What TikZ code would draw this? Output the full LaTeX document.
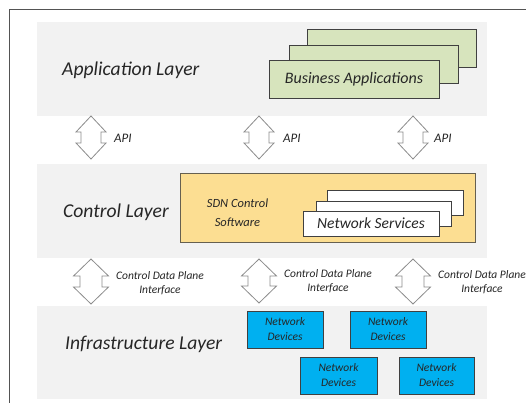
\documentclass[tikz,border=0pt]{standalone}
\usepackage{fontspec}
\setmainfont{Carlito}
\definecolor{bandgray}{HTML}{F2F2F2}
\definecolor{appgreen}{HTML}{D7E4BD}
\definecolor{sdnyellow}{HTML}{FCDE92}
\definecolor{devblue}{HTML}{00B0F0}
\definecolor{txt}{HTML}{262626}
\definecolor{edge}{HTML}{404040}
\begin{document}
\begin{tikzpicture}[x=1pt,y=-1pt,
  band/.style={fill=bandgray, draw=none, minimum width=450, minimum height=94, inner sep=0},
  layerlabel/.style={anchor=base west, inner sep=0, text=txt, font=\fontsize{19.6}{22}\selectfont\itshape},
  appbox/.style={fill=appgreen, draw=edge, line width=0.9pt, minimum width=170, minimum height=38, inner sep=0},
  svcbox/.style={fill=white, draw=edge, line width=0.9pt, minimum width=136, minimum height=25, inner sep=0},
  sdnbox/.style={fill=sdnyellow, draw=edge!80!sdnyellow, line width=0.9pt, minimum width=295, minimum height=69, inner sep=0},
  devbox/.style={fill=devblue, draw=edge, line width=0.9pt, minimum width=76, minimum height=37, inner sep=0, align=center,
     text=txt, font=\fontsize{11.5}{15}\selectfont\itshape},
  arrowline/.style={draw=gray!90, fill=white, line width=0.8pt, line join=miter},
  smalltext/.style={inner sep=0, text=txt, align=center, font=\fontsize{11.5}{14}\selectfont\itshape},
  apitext/.style={anchor=west, inner sep=0, text=txt, font=\fontsize{13}{15}\selectfont\itshape},
  frame/.style={draw=edge!90, line width=0.8pt},
  pics/dblarrow/.style n args={4}{code={
    \draw[arrowline] (0,-#1) -- (#2,-#1+#4) -- (#3,-#1+#4) -- (#3,#1-#4) -- (#2,#1-#4) -- (0,#1)
      -- (-#2,#1-#4) -- (-#3,#1-#4) -- (-#3,-#1+#4) -- (-#2,-#1+#4) -- cycle;
  }}
]
\useasboundingbox[fill=white] (0,0) rectangle (526,403);

% frame
\coordinate (fl) at (9,403);
\coordinate (ftl) at (9,9);
\coordinate (fr) at (530,9);
\draw[frame] (fl) -- (ftl) -- (fr);

% bands
\node[band] (appband) at (262,69) {};
\node[band] (ctlband) at (262,211) {};
\node[band, minimum height=93] (infband) at (262,352.5) {};

% layer labels
\node[layerlabel] (applabel) at (62,76) {Application Layer};
\node[layerlabel] (ctllabel) at (63,217.5) {Control Layer};
\node[layerlabel] (inflabel) at (65,349) {Infrastructure Layer};

% business applications stack
\node[appbox, minimum width=169] (app3) at (391.5,48.5) {};
\node[appbox, minimum width=169] (app2) at (373.5,64) {};
\node[appbox, text=txt, font=\fontsize{16}{18}\selectfont\itshape] (app1) at (354,79) {Business Applications};

% SDN control
\node[sdnbox] (sdn) at (327.5,207.5) {};
\node[smalltext, font=\fontsize{12.5}{19}\selectfont\itshape] (sdntext) at (237.5,212.5) {SDN Control\\Software};
\node[svcbox] (svc3) at (395,202.5) {};
\node[svcbox, minimum width=135] (svc2) at (383.5,213.5) {};
\node[svcbox, text=txt, font=\fontsize{15.5}{18}\selectfont\itshape] (svc1) at (371,223.5) {Network Services};

% network devices
\node[devbox] (dev1) at (285,329.5) {Network\\Devices};
\node[devbox] (dev2) at (388,329.5) {Network\\Devices};
\node[devbox, minimum width=77] (dev3) at (338.5,375.5) {Network\\Devices};
\node[devbox, minimum width=75] (dev4) at (436.5,375.5) {Network\\Devices};

% API arrows
\pic (api1) at (91,137.5) {dblarrow={21.5}{15}{10}{16}};
\pic (api2) at (259,137.5) {dblarrow={21.5}{15}{10}{16}};
\pic (api3) at (413,137.5) {dblarrow={21.5}{15}{10}{16}};
\node[apitext] (apit1) at (114,138) {API};
\node[apitext] (apit2) at (283,138) {API};
\node[apitext] (apit3) at (434,138) {API};

% control data plane arrows
\pic (cdp1) at (91,281.5) {dblarrow={22.5}{17.5}{11}{17}};
\pic (cdp2) at (259,281) {dblarrow={22}{17.5}{11}{17}};
\pic (cdp3) at (413,281.5) {dblarrow={22.5}{17.5}{11}{17}};
\node[smalltext] (cdpt1) at (160,283) {Control Data Plane\\Interface};
\node[smalltext] (cdpt2) at (328,281) {Control Data Plane\\Interface};
\node[smalltext] (cdpt3) at (482,282.5) {Control Data Plane\\Interface};
\end{tikzpicture}
\end{document}
